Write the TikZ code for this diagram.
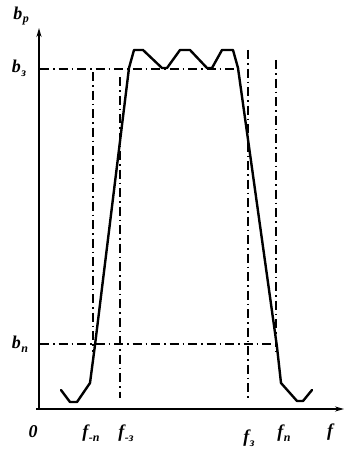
\documentclass[tikz,border=0pt]{standalone}
\usepackage{fontspec}
\setmainfont{Liberation Serif}
\usetikzlibrary{arrows.meta}
\newcommand\lbl[2]{#1\kern0.5pt\raisebox{-0.45ex}{\fontsize{12}{13}\selectfont #2}}
\tikzset{
  axisline/.style={line width=1.8pt,-{Stealth[length=9pt,width=5pt]}},
  curve/.style={line width=2.4pt,line join=round,line cap=round},
  guide/.style={line width=1.1pt,dash pattern=on 9pt off 4pt on 1.5pt off 4pt},
  lab/.style={font=\fontsize{18}{20}\selectfont\itshape\bfseries,inner sep=0pt}
}
\begin{document}
\begin{tikzpicture}[x=1pt,y=-1pt]
\useasboundingbox (0,0) rectangle (345,452);
% guide lines
\draw[guide] (40,69) -- (238,69);
\draw[guide] (40,344) -- (277,344);
\draw[guide] (93,72) -- (93,352);
\draw[guide] (120,77) -- (120,398);
\draw[guide] (248,50) -- (248,398);
\draw[guide] (276,60) -- (276,352);
% axes
\coordinate (O) at (39,409);
\coordinate (ytop) at (39,28);
\coordinate (xend) at (344,409);
\draw[axisline] (O) -- (ytop);
\draw[axisline] (36,409) -- (xend);
% curve
\draw[curve] (61,390) -- (70,402) -- (77,402) -- (90,383) -- (95,345)
  -- (129,68) -- (134,50) -- (143,50) -- (162,68) -- (167,68) -- (180,50)
  -- (190,50) -- (207,68) -- (212,68) -- (222,50) -- (233,50) -- (238,68)
  -- (277,347) -- (281,383) -- (297,401) -- (303,401) -- (312,390);
% labels
\node[lab] (lbp) at (21,16) {\lbl{b}{р}};
\node[lab] (lbz) at (19,68) {\lbl{b}{з}};
\node[lab] (lbn) at (20,344) {\lbl{b}{п}};
\node[lab] (l0) at (33,432) {0};
\node[lab] (lfmn) at (91,433) {\lbl{f}{-п}};
\node[lab] (lfmz) at (126,433) {\lbl{f}{-з}};
\node[lab] (lfz) at (249,438) {\lbl{f}{з}};
\node[lab] (lfn) at (284,433) {\lbl{f}{п}};
\node[lab] (lf) at (330,432) {f};
\end{tikzpicture}
\end{document}
